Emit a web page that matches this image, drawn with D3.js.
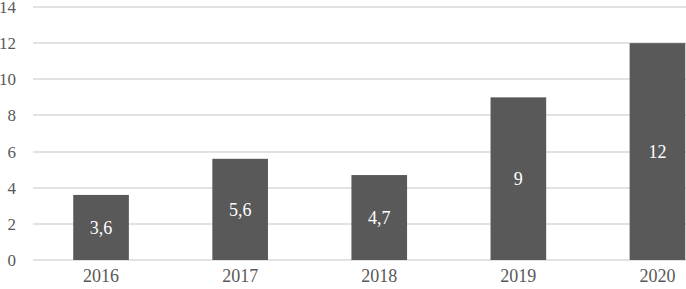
<!DOCTYPE html>
<html><head><meta charset="utf-8">
<script src="https://cdn.jsdelivr.net/npm/d3@7"></script>
<style>body{margin:0;background:#fff}svg{display:block}</style>
</head><body><svg id="c" width="686" height="289"></svg>
<script>
const categories = ["2016","2017","2018","2019","2020"];
const values = [3.6, 5.6, 4.7, 9, 12];
const labels = ["3,6","5,6","4,7","9","12"];
const yTicks = [0,2,4,6,8,10,12,14];

const FONT = '"Liberation Serif","Times New Roman",serif';
const svg = d3.select("#c");
const x = d3.scaleBand().domain(categories).range([31.5, 727]).paddingInner(0.6).paddingOuter(0.3);
const y = d3.scaleLinear().domain([0,14]).range([260, 7]);

svg.append("g").selectAll("line").data(yTicks).join("line")
  .attr("x1", 33).attr("x2", 686)
  .attr("y1", d => Math.round(y(d))).attr("y2", d => Math.round(y(d)))
  .attr("stroke", "#d9d9d9").attr("stroke-width", 1.5);

svg.append("g").selectAll("text").data(yTicks).join("text")
  .attr("x", 16).attr("y", d => y(d)).attr("dy", "0.35em")
  .attr("text-anchor", "end").style("font-family", FONT).style("font-size", "17px")
  .attr("fill", "#595959").text(d => d);

svg.append("g").selectAll("rect").data(values).join("rect")
  .attr("x", (d,i) => x(categories[i])).attr("width", x.bandwidth())
  .attr("y", d => y(d)).attr("height", d => y(0) - y(d))
  .attr("fill", "#595959");

svg.append("g").selectAll("text").data(values).join("text")
  .attr("x", (d,i) => x(categories[i]) + x.bandwidth()/2)
  .attr("y", d => (y(d) + y(0))/2).attr("dy", "0.35em")
  .attr("text-anchor", "middle").style("font-family", FONT).style("font-size", "18px")
  .attr("fill", "#fff").text((d,i) => labels[i]);

svg.append("g").selectAll("text").data(categories).join("text")
  .attr("x", d => x(d) + x.bandwidth()/2).attr("y", 282)
  .attr("text-anchor", "middle").style("font-family", FONT).style("font-size", "18px")
  .attr("fill", "#595959").text(d => d);
</script></body></html>
